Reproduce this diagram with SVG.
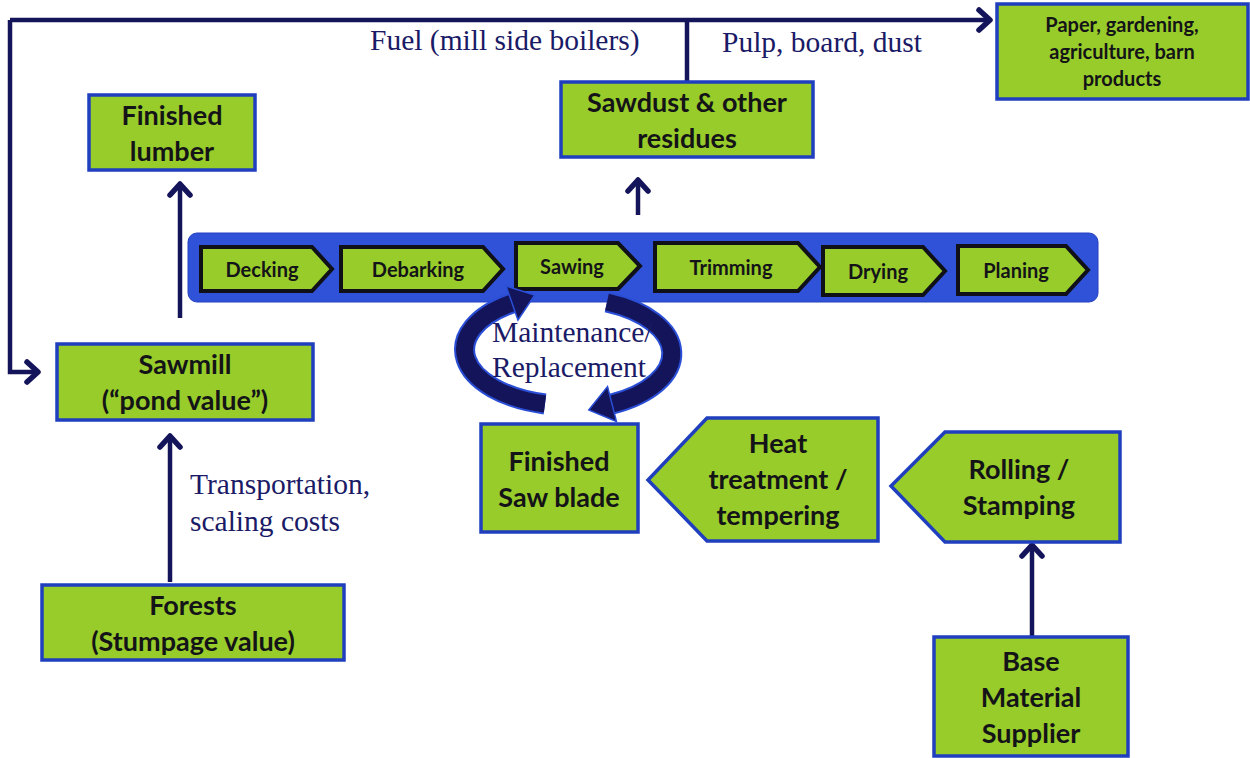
<svg xmlns="http://www.w3.org/2000/svg" width="1250" height="758" viewBox="0 0 1250 758">
<style>
.box{fill:#97cc2a;stroke:#1f3fbf;stroke-width:3.5}
.chev{fill:#97cc2a;stroke:#101018;stroke-width:4;stroke-linejoin:miter}
.t{font-family:Lato,"Open Sans",sans-serif;font-weight:bold;fill:#141418;text-anchor:middle}
.s{font-family:"Liberation Serif","Times New Roman",serif;fill:#1a1a66;font-size:29.5px}
.ln{fill:none;stroke:#14145a;stroke-width:4.5}
.cyc{fill:none;stroke:#14145a;stroke-width:17}
</style>
<defs>
<marker id="ah" markerUnits="userSpaceOnUse" markerWidth="30" markerHeight="30" viewBox="-15 -15 30 30" refX="0" refY="0" orient="auto">
<path d="M-11,-10 L0,0 L-11,10" fill="none" stroke="#14145a" stroke-width="5.5" stroke-linecap="round" stroke-linejoin="round"/>
</marker>
<marker id="big" markerUnits="userSpaceOnUse" markerWidth="50" markerHeight="50" viewBox="-5 -25 50 50" refX="0" refY="0" orient="auto">
<path d="M0,-18 L24,0 L0,18 z" fill="#14145a" stroke="#2a4fd6" stroke-width="1.5"/>
</marker>
</defs>

<g id="connectors">
<polyline class="ln" points="687,82 687,20"/>
<polyline class="ln" points="10,20 990,20" marker-end="url(#ah)"/>
<polyline class="ln" points="10,20 10,372 38,372" marker-end="url(#ah)"/>
<line class="ln" x1="180" y1="318" x2="180" y2="184" marker-end="url(#ah)"/>
<line class="ln" x1="638" y1="215" x2="638" y2="180" marker-end="url(#ah)"/>
<line class="ln" x1="170" y1="582" x2="170" y2="436" marker-end="url(#ah)"/>
<line class="ln" x1="1032" y1="637" x2="1032" y2="545" marker-end="url(#ah)"/>
<text class="s" x="370" y="50">Fuel (mill side boilers)</text>
<text class="s" x="722" y="52">Pulp, board, dust</text>
<text class="s" x="190" y="494">Transportation,</text>
<text class="s" x="190" y="531">scaling costs</text>
</g>

<g id="finished-lumber">
<rect class="box" x="89" y="95" width="166" height="75"/>
<text class="t" x="172" y="125" font-size="27">Finished</text>
<text class="t" x="172" y="161" font-size="27">lumber</text>
</g>

<g id="sawdust">
<rect class="box" x="561" y="82" width="252" height="75"/>
<text class="t" x="687" y="112" font-size="27">Sawdust &amp; other</text>
<text class="t" x="687" y="148" font-size="27">residues</text>
</g>

<g id="paper">
<rect class="box" x="997" y="4" width="251" height="95"/>
<text class="t" x="1122" y="32" font-size="20">Paper, gardening,</text>
<text class="t" x="1122" y="59" font-size="20">agriculture, barn</text>
<text class="t" x="1122" y="86" font-size="20">products</text>
</g>

<g id="process-bar">
<rect x="188" y="233" width="910" height="69" rx="9" fill="#2f52d8" stroke="#2440c0" stroke-width="1"/>
</g>
<g id="decking">
<path class="chev" d="M201,247 H312 L332,269 L312,291 H201 Z"/>
<text class="t" x="262" y="277" font-size="20">Decking</text>
</g>
<g id="debarking">
<path class="chev" d="M341,247 H483 L503,269 L483,291 H341 Z"/>
<text class="t" x="418" y="277" font-size="20">Debarking</text>
</g>
<g id="sawing">
<path class="chev" d="M516,243 H618 L640,266 L618,289 H516 Z"/>
<text class="t" x="572" y="274" font-size="20">Sawing</text>
</g>
<g id="trimming">
<path class="chev" d="M655,243 H798 L820,267 L798,291 H655 Z"/>
<text class="t" x="731" y="275" font-size="20">Trimming</text>
</g>
<g id="drying">
<path class="chev" d="M823,247 H923 L945,271 L923,295 H823 Z"/>
<text class="t" x="878" y="279" font-size="20">Drying</text>
</g>
<g id="planing">
<path class="chev" d="M958,246 H1066 L1088,270 L1066,294 H958 Z"/>
<text class="t" x="1016" y="278" font-size="20">Planing</text>
</g>

<g id="maintenance">
<path d="M545,404 A106 56 0 0 1 512,303" fill="none" stroke="#2a4fd6" stroke-width="21"/>
<path d="M607,302 A106 56 0 0 1 612,404" fill="none" stroke="#2a4fd6" stroke-width="21"/>
<path class="cyc" d="M545,404 A106 56 0 0 1 512,303" marker-end="url(#big)"/>
<path class="cyc" d="M607,302 A106 56 0 0 1 612,404" marker-end="url(#big)"/>
<text class="s" x="492" y="342">Maintenance/</text>
<text class="s" x="492" y="377">Replacement</text>
</g>

<g id="saw-blade">
<rect class="box" x="481" y="424" width="157" height="108"/>
<text class="t" x="559" y="471" font-size="27">Finished</text>
<text class="t" x="559" y="507" font-size="27">Saw blade</text>
</g>

<g id="heat-treatment">
<path class="box" d="M707,418 H878 V541 H707 L648,480 Z"/>
<text class="t" x="778" y="453" font-size="27">Heat</text>
<text class="t" x="778" y="489" font-size="27">treatment /</text>
<text class="t" x="778" y="525" font-size="27">tempering</text>
</g>

<g id="rolling">
<path class="box" d="M945,432 H1120 V542 H945 L891,486 Z"/>
<text class="t" x="1019" y="479" font-size="27">Rolling /</text>
<text class="t" x="1019" y="515" font-size="27">Stamping</text>
</g>

<g id="base-material">
<rect class="box" x="934" y="637" width="194" height="119"/>
<text class="t" x="1031" y="671" font-size="27">Base</text>
<text class="t" x="1031" y="707" font-size="27">Material</text>
<text class="t" x="1031" y="743" font-size="27">Supplier</text>
</g>

<g id="sawmill">
<rect class="box" x="57" y="344" width="256" height="76"/>
<text class="t" x="185" y="374" font-size="27">Sawmill</text>
<text class="t" x="185" y="410" font-size="27">(“pond value”)</text>
</g>

<g id="forests">
<rect class="box" x="42" y="585" width="302" height="75"/>
<text class="t" x="193" y="615" font-size="27">Forests</text>
<text class="t" x="193" y="651" font-size="27">(Stumpage value)</text>
</g>
</svg>
